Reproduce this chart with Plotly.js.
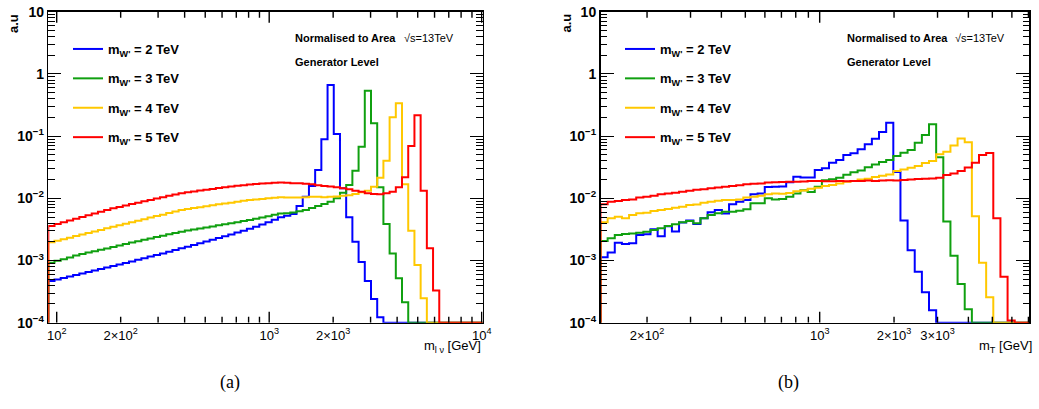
<!DOCTYPE html>
<html><head><meta charset="utf-8">
<script src="https://cdn.plot.ly/plotly-3.0.1.min.js"></script>
<style>html,body{margin:0;padding:0;background:#fff;}#chart{width:1039px;height:409px;}</style>
</head><body><div id="chart"></div>
<script>
// ---------------- data ----------------
const SERIES_NAMES = ["m<sub>W'</sub> = 2 TeV", "m<sub>W'</sub> = 3 TeV", "m<sub>W'</sub> = 4 TeV", "m<sub>W'</sub> = 5 TeV"];
const SERIES_COLORS = ["#0000ff", "#10a010", "#ffc800", "#ff0000"];

// panel (a): m_lv, 70 log bins
const A_XMIN = 91.3, A_XMAX = 10110, A_NBINS = 70;
const A_BLUE = [4.69e-4,4.95e-4,5.24e-4,5.53e-4,5.85e-4,6.18e-4,6.53e-4,6.90e-4,7.29e-4,7.71e-4,
 8.15e-4,8.63e-4,9.14e-4,9.68e-4,1.03e-3,1.09e-3,1.16e-3,1.23e-3,1.30e-3,1.39e-3,
 1.48e-3,1.57e-3,1.67e-3,1.78e-3,1.90e-3,2.02e-3,2.16e-3,2.30e-3,2.45e-3,2.62e-3,
 2.81e-3,3.01e-3,3.24e-3,3.50e-3,3.80e-3,4.14e-3,4.52e-3,4.95e-3,5.25e-3,5.6e-3,
 7.5e-3,0.0106,0.0158,0.0286,0.089,0.665,0.108,0.0145,4.95e-3,2.0e-3,
 9.5e-4,4.7e-4,2.4e-4,1.22e-4,0,0,0,0,0,0,
 0,0,0,0,0,0,0,0,0,0];
const A_GREEN = [9.2e-4,9.9e-4,1.05e-3,1.12e-3,1.20e-3,1.27e-3,1.34e-3,1.41e-3,1.49e-3,1.56e-3,
 1.65e-3,1.74e-3,1.84e-3,1.94e-3,2.04e-3,2.15e-3,2.26e-3,2.38e-3,2.51e-3,2.64e-3,
 2.77e-3,2.91e-3,3.03e-3,3.15e-3,3.27e-3,3.40e-3,3.54e-3,3.68e-3,3.83e-3,3.98e-3,
 4.14e-3,4.31e-3,4.48e-3,4.69e-3,4.92e-3,5.16e-3,5.43e-3,5.69e-3,5.78e-3,5.9e-3,
 6.2e-3,6.5e-3,7.0e-3,7.5e-3,8.1e-3,8.8e-3,0.0100,0.0123,0.0164,0.0279,
 0.0678,0.538,0.161,0.0151,3.86e-3,1.3e-3,5.2e-4,2.13e-4,0,0,
 0,0,0,0,0,0,0,0,0,0];
const A_YELLOW = [1.96e-3,2.08e-3,2.20e-3,2.33e-3,2.47e-3,2.62e-3,2.77e-3,2.94e-3,3.11e-3,3.30e-3,
 3.49e-3,3.70e-3,3.91e-3,4.13e-3,4.37e-3,4.62e-3,4.90e-3,5.18e-3,5.47e-3,5.79e-3,
 6.14e-3,6.49e-3,6.73e-3,6.97e-3,7.21e-3,7.46e-3,7.73e-3,8.00e-3,8.26e-3,8.53e-3,
 8.81e-3,9.12e-3,9.40e-3,9.59e-3,9.79e-3,0.0100,0.0102,0.0104,0.01035,0.0103,
 0.0103,0.0104,0.0106,0.0106,0.0104,0.0106,0.0107,0.0110,0.0112,0.0117,
 0.0125,0.0133,0.0154,0.0215,0.0404,0.201,0.337,0.0168,3.0e-3,8.5e-4,
 2.47e-4,0,0,0,0,0,0,0,0,0];
const A_RED = [3.59e-3,3.85e-3,4.12e-3,4.40e-3,4.69e-3,5.01e-3,5.35e-3,5.70e-3,6.08e-3,6.49e-3,
 6.90e-3,7.28e-3,7.67e-3,8.09e-3,8.51e-3,8.95e-3,9.42e-3,9.91e-3,0.0104,0.0110,
 0.01153,0.0121,0.01253,0.01294,0.01337,0.01377,0.01419,0.01462,0.01503,0.01545,
 0.01589,0.01629,0.0167,0.0170,0.0173,0.01754,0.0178,0.0179,0.01782,0.0175,
 0.0175,0.0172,0.0168,0.0162,0.0158,0.0155,0.0151,0.0145,0.0140,0.0133,
 0.0128,0.0121,0.0117,0.0116,0.0121,0.0128,0.0151,0.0218,0.0695,0.216,
 0.0133,1.57e-3,3.3e-4,0,0,0,0,0,0,0];

// panel (b): m_T, 60 log bins
const B_XMIN = 129.6, B_XMAX = 7038, B_NBINS = 60;
const B_BLUE = [1.13e-3,1.35e-3,1.93e-3,1.84e-3,1.89e-3,2.57e-3,2.65e-3,3.18e-3,2.45e-3,3.55e-3,
 2.92e-3,4.1e-3,4.4e-3,3.86e-3,4.77e-3,6.0e-3,6.5e-3,5.7e-3,8.0e-3,8.8e-3,
 9.4e-3,0.0116,0.0120,0.0152,0.0154,0.0155,0.0182,0.0222,0.0216,0.0217,
 0.0285,0.0305,0.0372,0.0413,0.0497,0.0529,0.0614,0.0738,0.0908,0.117,
 0.164,0.0265,4.4e-3,1.46e-3,6.6e-4,3.1e-4,1.58e-4,0,0,0,
 0,0,0,0,0,0,0,0,0,0];
const B_GREEN = [2.06e-3,2.28e-3,2.57e-3,2.67e-3,2.73e-3,2.8e-3,2.9e-3,3.09e-3,3.29e-3,3.59e-3,
 3.82e-3,4.11e-3,4.31e-3,3.96e-3,4.77e-3,5.39e-3,5.74e-3,6.1e-3,6.1e-3,6.33e-3,
 6.65e-3,8.3e-3,8.3e-3,0.0100,9.6e-3,9.8e-3,0.0106,0.0120,0.0135,0.0127,
 0.0154,0.0195,0.0202,0.0214,0.0240,0.0262,0.0280,0.0315,0.0350,0.0385,
 0.0413,0.0479,0.054,0.060,0.0783,0.104,0.155,0.0456,4.25e-3,1.19e-3,
 4.18e-4,1.64e-4,0,0,0,0,0,0,0,0];
const B_YELLOW = [4.11e-3,4.77e-3,5.07e-3,4.77e-3,5.39e-3,5.74e-3,5.89e-3,6.25e-3,6.5e-3,6.73e-3,
 7.07e-3,7.33e-3,7.8e-3,7.95e-3,8.5e-3,8.8e-3,9.17e-3,9.4e-3,9.4e-3,9.6e-3,
 0.0103,0.0106,0.0110,0.0116,0.0120,0.0118,0.0122,0.0130,0.0134,0.0142,
 0.0148,0.0158,0.0164,0.0173,0.0185,0.0190,0.0200,0.0207,0.0220,0.0230,
 0.0242,0.0276,0.0290,0.0310,0.0330,0.0370,0.0400,0.0510,0.0561,0.0705,
 0.0915,0.0800,5.15e-3,9.2e-4,2.56e-4,0,0,0,0,0];
const B_RED = [8.0e-3,8.8e-3,9.06e-3,9.4e-3,9.6e-3,0.0103,0.0106,0.0110,0.0116,0.0120,
 0.0123,0.0128,0.0133,0.0137,0.0140,0.0145,0.0149,0.0154,0.0158,0.0162,
 0.0168,0.0171,0.0174,0.0179,0.0181,0.0183,0.0185,0.0185,0.0187,0.0190,
 0.0190,0.0188,0.0188,0.0190,0.0188,0.0190,0.0190,0.0193,0.0190,0.0193,
 0.0195,0.0193,0.0197,0.0200,0.0205,0.0207,0.0208,0.0214,0.0237,0.0250,
 0.0275,0.0312,0.0374,0.0497,0.0535,4.77e-3,5.5e-4,1.08e-4,0,0];

// tick labels
const A_XTICKVALS = [100, 200, 1000, 2000, 10000];
const A_XTICKTEXT = ["10<sup>2</sup>", "2×10<sup>2</sup>", "10<sup>3</sup>", "2×10<sup>3</sup>", "10<sup>4</sup>"];
const B_XTICKVALS = [200, 1000, 2000, 3000];
const B_XTICKTEXT = ["2×10<sup>2</sup>", "10<sup>3</sup>", "2×10<sup>3</sup>", "3×10<sup>3</sup>"];
const YTICKVALS = [1e-4, 1e-3, 1e-2, 1e-1, 1, 10];
const YTICKTEXT = ["10<sup>−4</sup>", "10<sup>−3</sup>", "10<sup>−2</sup>", "10<sup>−1</sup>", "1", "10"];
const Y_MIN = 1e-4, Y_MAX = 10;

// ---------------- layout helpers ----------------
const W = 1039, H = 409;
const px = v => v / W, py = v => 1 - v / H;
const FRAME_TOP = 11.8, FRAME_BOT = 322.7;
const PX_PER_DECADE = (FRAME_BOT - FRAME_TOP) / (Math.log10(Y_MAX) - Math.log10(Y_MIN));
const A_L = 48.3, A_R = 482.7, B_L = 600.5, B_R = 1029;
const SANS = "Liberation Sans, Arial, sans-serif";

function edges(xmin, xmax, n) {
  const lo = Math.log10(xmin), hi = Math.log10(xmax), e = [];
  for (let i = 0; i <= n; i++) e.push(Math.pow(10, lo + (hi - lo) * i / n));
  return e;
}
function stepTrace(e, vals, k, xa, ya, leg) {
  const x = [e[0]], y = [Y_MIN];
  vals.forEach((v, i) => { x.push(e[i]); y.push(v > 0 ? v : Y_MIN); });
  x.push(e[vals.length]); y.push(vals[vals.length - 1] > 0 ? vals[vals.length - 1] : Y_MIN);
  return {type: 'scatter', mode: 'lines', x, y, xaxis: xa, yaxis: ya,
    line: {color: SERIES_COLORS[k], width: 2, shape: 'hv'},
    name: SERIES_NAMES[k], legend: leg, legendgroup: leg + k, hoverinfo: 'skip'};
}
function minorVals(lo, hi) {
  const out = [];
  for (let p = -5; p <= 5; p++) for (let m = 2; m <= 9; m++) {
    const v = m * Math.pow(10, p); if (v > lo && v < hi) out.push(v);
  }
  return out;
}
function majorVals(lo, hi) {
  const out = [];
  for (let p = -5; p <= 5; p++) { const v = Math.pow(10, p); if (v >= lo && v <= hi) out.push(v); }
  return out;
}
// x-axis tick marks (bottom and top of the frame), drawn through the axes' own scales
function xTickTrace(xa, ya, xmin, xmax) {
  const x = [], y = [];
  const add = (v, len) => {
    const f = Math.pow(10, len / PX_PER_DECADE);
    x.push(v, v, null, v, v, null);
    y.push(Y_MIN, Y_MIN * f, null, Y_MAX, Y_MAX / f, null);
  };
  majorVals(xmin, xmax).forEach(v => add(v, 11));
  minorVals(xmin, xmax).forEach(v => add(v, 6));
  return {type: 'scatter', mode: 'lines', x, y, xaxis: xa, yaxis: ya, connectgaps: false,
    line: {color: '#000', width: 1.4, simplify: false}, showlegend: false, hoverinfo: 'skip'};
}

const eA = edges(A_XMIN, A_XMAX, A_NBINS), eB = edges(B_XMIN, B_XMAX, B_NBINS);
const traces = [];
[A_BLUE, A_GREEN, A_YELLOW, A_RED].forEach((s, k) => traces.push(stepTrace(eA, s, k, 'x', 'y', 'legend')));
[B_BLUE, B_GREEN, B_YELLOW, B_RED].forEach((s, k) => traces.push(stepTrace(eB, s, k, 'x2', 'y2', 'legend2')));
traces.push(xTickTrace('x', 'y', A_XMIN, A_XMAX));
traces.push(xTickTrace('x2', 'y2', B_XMIN, B_XMAX));

const ydom = [py(FRAME_BOT), py(FRAME_TOP)];
function xAxis(dom, xmin, xmax, anchor, vals, text) {
  return {type: 'log', domain: dom, range: [Math.log10(xmin), Math.log10(xmax)], anchor,
    showgrid: false, zeroline: false, showline: true, linecolor: '#000', linewidth: 1.5, mirror: true,
    tickmode: 'array', tickvals: vals, ticktext: text, ticks: '',
    tickfont: {family: SANS, size: 13, color: '#000'}};
}
function yAxis(anchor) {
  return {type: 'log', domain: ydom, range: [Math.log10(Y_MIN), Math.log10(Y_MAX)], anchor,
    showgrid: false, zeroline: false, showline: true, linecolor: '#000', linewidth: 1.5, mirror: 'ticks',
    tickmode: 'array', tickvals: YTICKVALS, ticktext: YTICKTEXT, ticks: 'inside', ticklen: 13, tickwidth: 1, tickcolor: '#000',
    tickfont: {family: SANS, size: 14, color: '#000', weight: 'bold'},
    minor: {tickmode: 'array', tickvals: minorVals(Y_MIN, Y_MAX), ticks: 'inside', ticklen: 6.5, tickwidth: 1, tickcolor: '#000', showgrid: false}};
}
function legendCfg(xLeft) {
  return {x: px(xLeft), y: py(34), xanchor: 'left', yanchor: 'top', bgcolor: 'rgba(0,0,0,0)', borderwidth: 0,
    font: {family: SANS, size: 13, color: '#000', weight: 'bold'}, traceorder: 'grouped', tracegroupgap: 9.5};
}
function ann(text, x, y, opts) {
  return Object.assign({text, x: px(x), y: py(y), xref: 'paper', yref: 'paper', showarrow: false,
    xanchor: 'left', yanchor: 'middle', font: {family: SANS, size: 11, color: '#000'}}, opts || {});
}
const BOLD11 = {family: SANS, size: 11, color: '#000', weight: 'bold'};
const AU = {textangle: -90, xanchor: 'center', yanchor: 'top', font: {family: SANS, size: 13, color: '#000', weight: 'bold'}};

const annotations = [
  ann('Normalised to Area', 293, 38, {font: BOLD11}), ann('√s=13TeV', 402, 38),
  ann('Generator Level', 293, 62, {font: BOLD11}),
  ann('Normalised to Area', 845, 38, {font: BOLD11}), ann('√s=13TeV', 953, 38),
  ann('Generator Level', 845, 62, {font: BOLD11}),
  ann('a.u', 13.5, 12, AU), ann('a.u', 566, 12, AU),
  ann('m<sub>l ν</sub> [GeV]', 483, 346, {xanchor: 'right', font: {family: SANS, size: 13, color: '#000'}}),
  ann('m<sub>T</sub> [GeV]', 1034, 346, {xanchor: 'right', font: {family: SANS, size: 13, color: '#000'}}),
  ann('(a)', 229.5, 382, {xanchor: 'center', font: {family: 'Liberation Serif, serif', size: 18, color: '#000'}}),
  ann('(b)', 788.5, 382, {xanchor: 'center', font: {family: 'Liberation Serif, serif', size: 18, color: '#000'}})
];

const layout = {
  width: W, height: H, margin: {l: 0, r: 0, t: 0, b: 0}, paper_bgcolor: '#fff', plot_bgcolor: '#fff',
  showlegend: true,
  xaxis: xAxis([px(A_L), px(A_R)], A_XMIN, A_XMAX, 'y', A_XTICKVALS, A_XTICKTEXT),
  xaxis2: xAxis([px(B_L), px(B_R)], B_XMIN, B_XMAX, 'y2', B_XTICKVALS, B_XTICKTEXT),
  yaxis: yAxis('x'), yaxis2: yAxis('x2'),
  legend: legendCfg(68), legend2: legendCfg(620),
  annotations
};

Plotly.newPlot('chart', traces, layout, {staticPlot: true, displayModeBar: false});
</script>
</body></html>
